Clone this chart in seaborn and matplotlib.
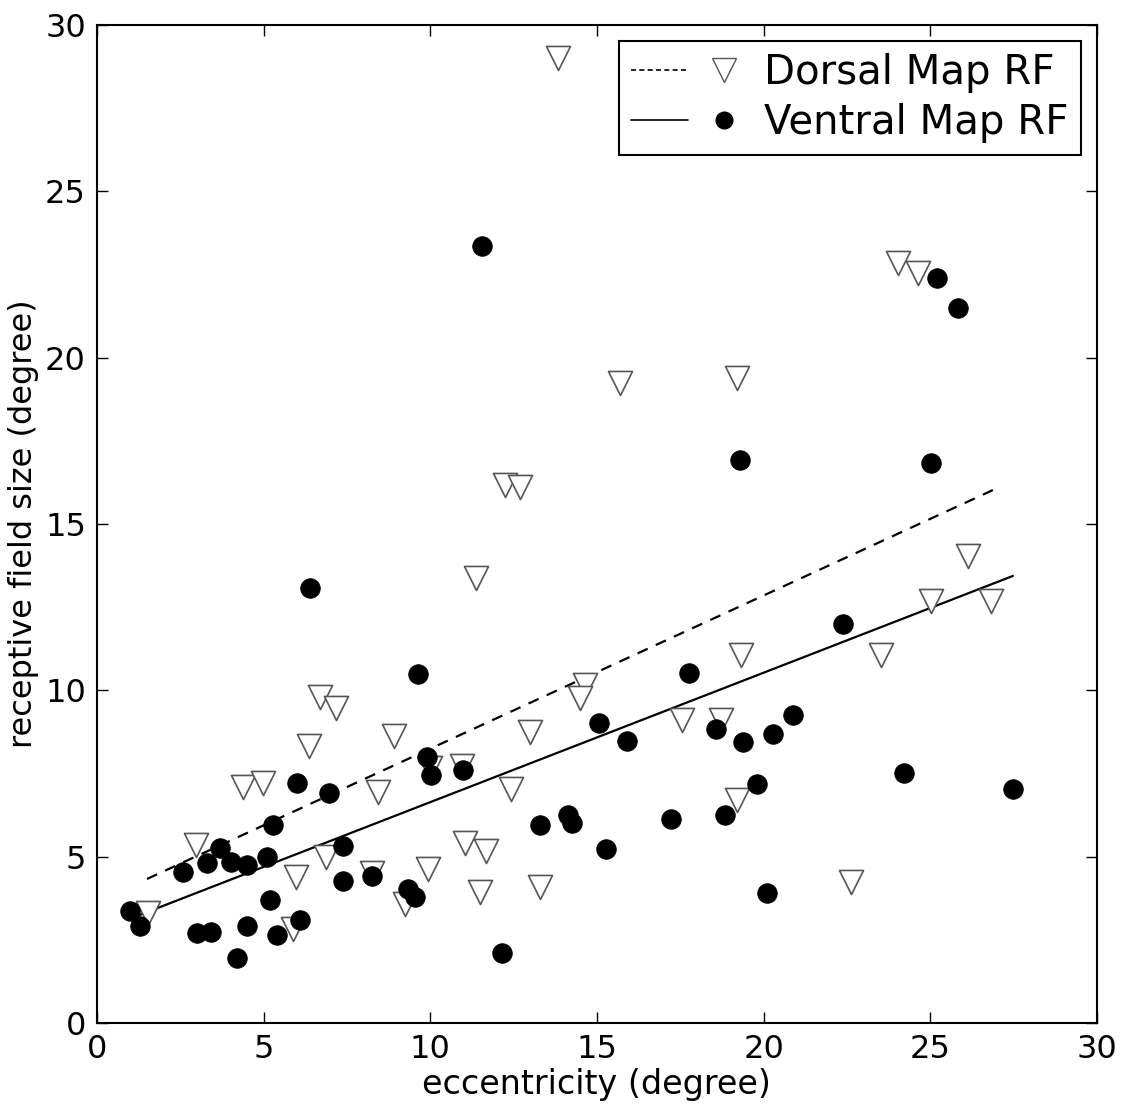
import numpy as np
import pandas as pd
import seaborn as sns
import matplotlib.pyplot as plt
from matplotlib.lines import Line2D
from matplotlib.legend_handler import HandlerTuple

# dorsal map receptive fields (eccentricity, size)
dorsal_ecc = [13.83, 24.03, 24.63, 15.69, 19.2, 12.24, 12.69, 11.37, 26.13, 25.02,
              26.82, 23.52, 19.32, 14.64, 14.49, 6.69, 7.17, 6.36, 8.91, 12.99,
              17.55, 18.72, 4.38, 4.98, 8.43, 12.42, 9.99, 10.95, 19.2, 2.97,
              11.04, 11.67, 6.87, 5.97, 9.93, 8.25, 11.49, 13.29, 22.62, 9.24,
              5.88, 1.53]
dorsal_rf = [29.0, 22.84, 22.54, 19.24, 19.39, 16.17, 16.11, 13.37, 14.04, 12.68,
             12.68, 11.06, 11.06, 10.16, 9.77, 9.8, 9.47, 8.33, 8.63, 8.75,
             9.1, 9.1, 7.09, 7.21, 6.94, 7.03, 7.66, 7.72, 6.7, 5.35,
             5.41, 5.17, 5.0, 4.39, 4.63, 4.51, 3.94, 4.09, 4.24, 3.58,
             2.83, 3.31]

# ventral map receptive fields
ventral_ecc = [0.99, 1.29, 2.58, 3.0, 3.3, 3.42, 3.69, 4.02, 4.2, 4.5,
               4.5, 5.1, 5.19, 5.28, 5.4, 6.0, 6.09, 6.39, 6.96, 7.38,
               7.38, 8.25, 9.33, 9.54, 9.63, 9.9, 10.02, 10.98, 11.55, 12.15,
               13.29, 14.13, 14.25, 15.06, 15.27, 15.9, 17.22, 17.76, 18.57, 18.84,
               19.29, 19.38, 19.8, 20.1, 20.28, 20.88, 22.38, 24.21, 25.02, 25.2,
               25.83, 27.48]
ventral_rf = [3.37, 2.92, 4.54, 2.71, 4.81, 2.74, 5.26, 4.84, 1.95, 4.75,
              2.92, 4.99, 3.7, 5.95, 2.65, 7.21, 3.1, 13.07, 6.91, 5.32,
              4.27, 4.42, 4.03, 3.79, 10.49, 8.0, 7.45, 7.6, 23.35, 2.1,
              5.95, 6.25, 6.01, 9.02, 5.23, 8.48, 6.13, 10.52, 8.84, 6.25,
              16.92, 8.45, 7.18, 3.91, 8.69, 9.26, 11.99, 7.51, 16.83, 22.39,
              21.49, 7.03]

# linear fits: slope, intercept, x range
dorsal_fit = [0.4606, 3.64]
dorsal_fit_range = [1.5, 26.88]
ventral_fit = [0.389, 2.75]
ventral_fit_range = [1.29, 27.48]

dorsal = pd.DataFrame({'ecc': dorsal_ecc, 'rf': dorsal_rf})
ventral = pd.DataFrame({'ecc': ventral_ecc, 'rf': ventral_rf})

sns.set_style('ticks')
plt.rcParams['font.family'] = ['DejaVu Sans']
plt.rcParams['text.color'] = 'black'
plt.rcParams['axes.labelcolor'] = 'black'

fig = plt.figure(figsize=(11.21, 11.06), dpi=100)
ax = fig.add_axes([0.0865, 0.075, 0.892, 0.9024])

xd = np.linspace(dorsal_fit_range[0], dorsal_fit_range[1], 50)
xv = np.linspace(ventral_fit_range[0], ventral_fit_range[1], 50)
sns.lineplot(x=xd, y=dorsal_fit[0] * xd + dorsal_fit[1], ax=ax, color='black',
             linestyle=(0, (5, 4)), linewidth=1.6, zorder=1)
sns.lineplot(x=xv, y=ventral_fit[0] * xv + ventral_fit[1], ax=ax, color='black',
             linewidth=1.6, zorder=1)

sns.scatterplot(data=dorsal, x='ecc', y='rf', ax=ax, marker='v', s=300,
                facecolor='white', edgecolor='#555555', linewidth=1.2, zorder=2)
sns.scatterplot(data=ventral, x='ecc', y='rf', ax=ax, marker='o', s=200,
                color='black', edgecolor='black', linewidth=0.5, zorder=3)

ax.set_xlim(0, 30)
ax.set_ylim(0, 30)
ax.set_xticks(range(0, 31, 5))
ax.set_yticks(range(0, 31, 5))
ax.tick_params(direction='in', length=8, width=1, top=True, right=True,
               labelsize=23, colors='black', pad=8)
for sp in ax.spines.values():
    sp.set_linewidth(1.5)
    sp.set_color('black')
ax.set_xlabel('eccentricity (degree)', fontsize=24, labelpad=2)
ax.set_ylabel('receptive field size (degree)', fontsize=23, labelpad=4)

h_dl = Line2D([], [], color='black', linestyle=(0, (3, 2)), linewidth=1.2)
h_dm = Line2D([], [], marker='v', linestyle='none', markersize=17,
              markerfacecolor='white', markeredgecolor='#555555')
h_vl = Line2D([], [], color='black', linewidth=1.2)
h_vm = Line2D([], [], marker='o', linestyle='none', markersize=12,
              color='black')
leg = ax.legend([(h_dl, h_dm), (h_vl, h_vm)], ['Dorsal Map RF', 'Ventral Map RF'],
                handler_map={tuple: HandlerTuple(ndivide=2, pad=0.2)},
                loc='upper right', fontsize=29, handlelength=3.0, handletextpad=0.3,
                borderpad=0.3, labelspacing=0.25, fancybox=False, framealpha=1,
                edgecolor='black', borderaxespad=0.4)
leg.get_frame().set_linewidth(1.5)

fig.savefig('out.png', dpi=100)
